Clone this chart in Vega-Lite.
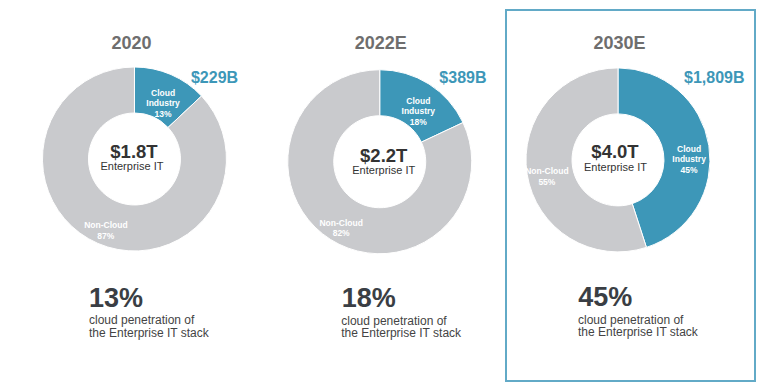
{
  "$schema": "https://vega.github.io/schema/vega-lite/v6.json",
  "autosize": {"type": "pad"},
  "padding": {"left": 0, "top": 9, "right": 0, "bottom": 0},
  "background": "white",
  "spacing": 4,
  "bounds": "flush",
  "config": {"view": {"stroke": null}, "text": {"font": "Liberation Sans"}},
  "datasets": {
    "slices": [
      {"year": "2020", "segment": "Cloud", "share": 13, "label": "Cloud\nIndustry\n13%"},
      {"year": "2020", "segment": "Non-Cloud", "share": 87, "label": "Non-Cloud\n87%"},
      {"year": "2022E", "segment": "Cloud", "share": 18, "label": "Cloud\nIndustry\n18%"},
      {"year": "2022E", "segment": "Non-Cloud", "share": 82, "label": "Non-Cloud\n82%"},
      {"year": "2030E", "segment": "Cloud", "share": 45, "label": "Cloud\nIndustry\n45%"},
      {"year": "2030E", "segment": "Non-Cloud", "share": 55, "label": "Non-Cloud\n55%"}
    ],
    "years": [
      {"year": "2020", "cloudValue": "$229B", "total": "$1.8T", "totalLabel": "Enterprise IT", "penetration": "13%", "note": "cloud penetration of\nthe Enterprise IT stack"},
      {"year": "2022E", "cloudValue": "$389B", "total": "$2.2T", "totalLabel": "Enterprise IT", "penetration": "18%", "note": "cloud penetration of\nthe Enterprise IT stack"},
      {"year": "2030E", "cloudValue": "$1,809B", "total": "$4.0T", "totalLabel": "Enterprise IT", "penetration": "45%", "note": "cloud penetration of\nthe Enterprise IT stack"}
    ]
  },
  "hconcat": [
    {
      "width": 249, "height": 371,
      "encoding": {
        "x": {"field": "year", "type": "nominal", "scale": {"type": "point", "align": 0.540}, "axis": null},
        "y": {"field": "year", "type": "nominal", "scale": {"type": "point", "align": 0.4016}, "axis": null}
      },
      "layer": [
        {"data": {"name": "slices"}, "transform": [{"filter": "datum.year === '2020'"}],
         "mark": {"type": "arc", "innerRadius": 46, "outerRadius": 92, "stroke": "white", "strokeWidth": 1},
         "encoding": {"theta": {"field": "share", "type": "quantitative", "stack": true},
                      "color": {"field": "segment", "type": "nominal", "scale": {"domain": ["Cloud", "Non-Cloud"], "range": ["#3d97b8", "#c9cacd"]}, "legend": null}}},
        {"data": {"name": "slices"}, "transform": [{"filter": "datum.year === '2020'"}],
         "mark": {"type": "text", "radius": 72, "fontSize": 8.5, "fontWeight": "bold", "color": "white", "lineBreak": "\n", "lineHeight": 10.5, "align": "center", "baseline": "middle"},
         "encoding": {"theta": {"field": "share", "type": "quantitative", "stack": true}, "text": {"field": "label", "type": "nominal"}}},
        {"data": {"name": "years"}, "transform": [{"filter": "datum.year === '2020'"}],
         "mark": {"type": "text", "fontSize": 18, "fontWeight": "bold", "color": "#6e6e6e", "align": "center", "baseline": "alphabetic", "dx": -3, "dy": -110},
         "encoding": {"text": {"field": "year", "type": "nominal"}}},
        {"data": {"name": "years"}, "transform": [{"filter": "datum.year === '2020'"}],
         "mark": {"type": "text", "fontSize": 16, "fontWeight": "bold", "color": "#3d97b8", "align": "left", "baseline": "alphabetic", "dx": 56.5, "dy": -76},
         "encoding": {"text": {"field": "cloudValue", "type": "nominal"}}},
        {"data": {"name": "years"}, "transform": [{"filter": "datum.year === '2020'"}],
         "mark": {"type": "text", "fontSize": 18.5, "fontWeight": "bold", "color": "#333333", "align": "center", "baseline": "alphabetic", "dx": -0.5, "dy": -1},
         "encoding": {"text": {"field": "total", "type": "nominal"}}},
        {"data": {"name": "years"}, "transform": [{"filter": "datum.year === '2020'"}],
         "mark": {"type": "text", "fontSize": 11, "color": "#333333", "align": "center", "baseline": "alphabetic", "dx": -2.5, "dy": 11.5},
         "encoding": {"text": {"field": "totalLabel", "type": "nominal"}}},
        {"data": {"name": "years"}, "transform": [{"filter": "datum.year === '2020'"}],
         "mark": {"type": "text", "fontSize": 27, "fontWeight": "bold", "color": "#3a3e44", "align": "left", "baseline": "alphabetic", "dx": -45.5, "dy": 148},
         "encoding": {"text": {"field": "penetration", "type": "nominal"}}},
        {"data": {"name": "years"}, "transform": [{"filter": "datum.year === '2020'"}],
         "mark": {"type": "text", "fontSize": 12, "color": "#444444", "align": "left", "baseline": "alphabetic", "lineBreak": "\n", "lineHeight": 12.5, "dx": -45.5, "dy": 165.5},
         "encoding": {"text": {"field": "note", "type": "nominal"}}}
      ]
    },
    {
      "width": 249, "height": 371,
      "encoding": {
        "x": {"field": "year", "type": "nominal", "scale": {"type": "point", "align": 0.509}, "axis": null},
        "y": {"field": "year", "type": "nominal", "scale": {"type": "point", "align": 0.409}, "axis": null}
      },
      "layer": [
        {"data": {"name": "slices"}, "transform": [{"filter": "datum.year === '2022E'"}],
         "mark": {"type": "arc", "innerRadius": 46, "outerRadius": 92, "stroke": "white", "strokeWidth": 1},
         "encoding": {"theta": {"field": "share", "type": "quantitative", "stack": true},
                      "color": {"field": "segment", "type": "nominal", "scale": {"domain": ["Cloud", "Non-Cloud"], "range": ["#3d97b8", "#c9cacd"]}, "legend": null}}},
        {"data": {"name": "slices"}, "transform": [{"filter": "datum.year === '2022E'"}],
         "mark": {"type": "text", "radius": 72, "fontSize": 8.5, "fontWeight": "bold", "color": "white", "lineBreak": "\n", "lineHeight": 10.5, "align": "center", "baseline": "middle"},
         "encoding": {"theta": {"field": "share", "type": "quantitative", "stack": true}, "text": {"field": "label", "type": "nominal"}}},
        {"data": {"name": "years"}, "transform": [{"filter": "datum.year === '2022E'"}],
         "mark": {"type": "text", "fontSize": 18, "fontWeight": "bold", "color": "#6e6e6e", "align": "center", "baseline": "alphabetic", "dx": 1, "dy": -112.4},
         "encoding": {"text": {"field": "year", "type": "nominal"}}},
        {"data": {"name": "years"}, "transform": [{"filter": "datum.year === '2022E'"}],
         "mark": {"type": "text", "fontSize": 16, "fontWeight": "bold", "color": "#3d97b8", "align": "left", "baseline": "alphabetic", "dx": 59.6, "dy": -78.4},
         "encoding": {"text": {"field": "cloudValue", "type": "nominal"}}},
        {"data": {"name": "years"}, "transform": [{"filter": "datum.year === '2022E'"}],
         "mark": {"type": "text", "fontSize": 18.5, "fontWeight": "bold", "color": "#333333", "align": "center", "baseline": "alphabetic", "dx": 4, "dy": 0},
         "encoding": {"text": {"field": "total", "type": "nominal"}}},
        {"data": {"name": "years"}, "transform": [{"filter": "datum.year === '2022E'"}],
         "mark": {"type": "text", "fontSize": 11, "color": "#333333", "align": "center", "baseline": "alphabetic", "dx": 4, "dy": 12.5},
         "encoding": {"text": {"field": "totalLabel", "type": "nominal"}}},
        {"data": {"name": "years"}, "transform": [{"filter": "datum.year === '2022E'"}],
         "mark": {"type": "text", "fontSize": 27, "fontWeight": "bold", "color": "#3a3e44", "align": "left", "baseline": "alphabetic", "dx": -38, "dy": 145.3},
         "encoding": {"text": {"field": "penetration", "type": "nominal"}}},
        {"data": {"name": "years"}, "transform": [{"filter": "datum.year === '2022E'"}],
         "mark": {"type": "text", "fontSize": 12, "color": "#444444", "align": "left", "baseline": "alphabetic", "lineBreak": "\n", "lineHeight": 12.5, "dx": -38.5, "dy": 163},
         "encoding": {"text": {"field": "note", "type": "nominal"}}}
      ]
    },
    {
      "width": 249, "height": 371,
      "view": {"stroke": "#62aac7", "strokeWidth": 2},
      "encoding": {
        "x": {"field": "year", "type": "nominal", "scale": {"type": "point", "align": 0.4498}, "axis": null},
        "y": {"field": "year", "type": "nominal", "scale": {"type": "point", "align": 0.404}, "axis": null}
      },
      "layer": [
        {"data": {"name": "slices"}, "transform": [{"filter": "datum.year === '2030E'"}],
         "mark": {"type": "arc", "innerRadius": 46, "outerRadius": 92, "stroke": "white", "strokeWidth": 1},
         "encoding": {"theta": {"field": "share", "type": "quantitative", "stack": true},
                      "color": {"field": "segment", "type": "nominal", "scale": {"domain": ["Cloud", "Non-Cloud"], "range": ["#3d97b8", "#c9cacd"]}, "legend": null}}},
        {"data": {"name": "slices"}, "transform": [{"filter": "datum.year === '2030E'"}],
         "mark": {"type": "text", "radius": 72, "fontSize": 8.5, "fontWeight": "bold", "color": "white", "lineBreak": "\n", "lineHeight": 10.5, "align": "center", "baseline": "middle"},
         "encoding": {"theta": {"field": "share", "type": "quantitative", "stack": true}, "text": {"field": "label", "type": "nominal"}}},
        {"data": {"name": "years"}, "transform": [{"filter": "datum.year === '2030E'"}],
         "mark": {"type": "text", "fontSize": 18, "fontWeight": "bold", "color": "#6e6e6e", "align": "center", "baseline": "alphabetic", "dx": 1.5, "dy": -110.7},
         "encoding": {"text": {"field": "year", "type": "nominal"}}},
        {"data": {"name": "years"}, "transform": [{"filter": "datum.year === '2030E'"}],
         "mark": {"type": "text", "fontSize": 16, "fontWeight": "bold", "color": "#3d97b8", "align": "left", "baseline": "alphabetic", "dx": 66, "dy": -76.7},
         "encoding": {"text": {"field": "cloudValue", "type": "nominal"}}},
        {"data": {"name": "years"}, "transform": [{"filter": "datum.year === '2030E'"}],
         "mark": {"type": "text", "fontSize": 18.5, "fontWeight": "bold", "color": "#333333", "align": "center", "baseline": "alphabetic", "dx": -3, "dy": -1.7},
         "encoding": {"text": {"field": "total", "type": "nominal"}}},
        {"data": {"name": "years"}, "transform": [{"filter": "datum.year === '2030E'"}],
         "mark": {"type": "text", "fontSize": 11, "color": "#333333", "align": "center", "baseline": "alphabetic", "dx": -2.5, "dy": 11},
         "encoding": {"text": {"field": "totalLabel", "type": "nominal"}}},
        {"data": {"name": "years"}, "transform": [{"filter": "datum.year === '2030E'"}],
         "mark": {"type": "text", "fontSize": 27, "fontWeight": "bold", "color": "#3a3e44", "align": "left", "baseline": "alphabetic", "dx": -39.7, "dy": 146},
         "encoding": {"text": {"field": "penetration", "type": "nominal"}}},
        {"data": {"name": "years"}, "transform": [{"filter": "datum.year === '2030E'"}],
         "mark": {"type": "text", "fontSize": 12, "color": "#444444", "align": "left", "baseline": "alphabetic", "lineBreak": "\n", "lineHeight": 12.5, "dx": -40, "dy": 164},
         "encoding": {"text": {"field": "note", "type": "nominal"}}}
      ]
    }
  ]
}
